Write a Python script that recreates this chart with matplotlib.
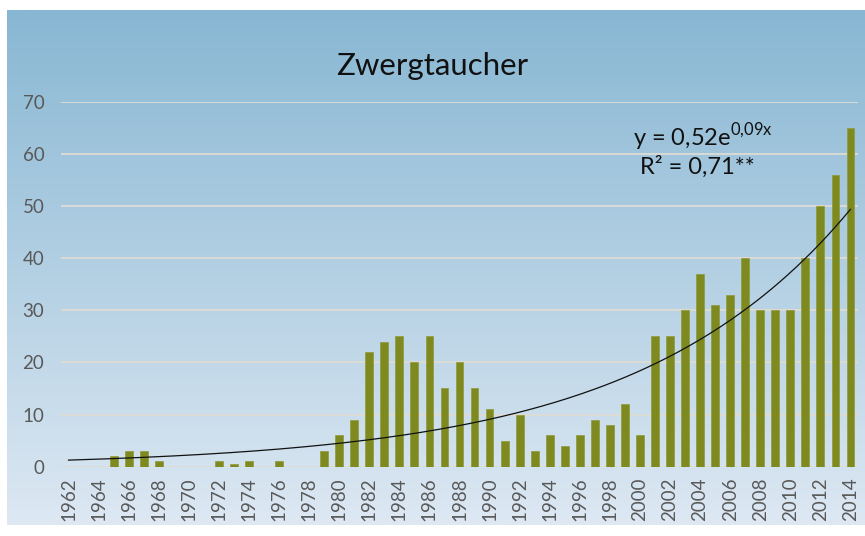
import matplotlib
matplotlib.use("Agg")
import matplotlib.pyplot as plt
import numpy as np

# Zwergtaucher counts per year
years = list(range(1962, 2015))
counts = [
    0, 0, 0, 2, 3, 3, 1, 0, 0, 0,            # 1962-1971
    1, 0.5, 1, 0, 1, 0, 0, 3, 6, 9,          # 1972-1981
    22, 24, 25, 20, 25, 15, 20, 15, 11, 5,   # 1982-1991
    10, 3, 6, 4, 6, 9, 8, 12, 6, 25,         # 1992-2001
    25, 30, 37, 31, 33, 40, 30, 30, 30, 40,  # 2002-2011
    50, 56, 65,                              # 2012-2014
]
tick_years = list(range(1962, 2015, 2))
y_ticks = [0, 10, 20, 30, 40, 50, 60, 70]
title = "Zwergtaucher"
eq_label = "y = 0,52e$^{\\mathregular{0{,}09x}}$"
r2_label = "R² = 0,71**"

plt.rcParams["font.family"] = ["Lato", "DejaVu Sans"]

fig = plt.figure(figsize=(8.65, 5.36), dpi=100)
fig.patch.set_facecolor("white")

# gradient panel behind the chart
bg = fig.add_axes([7 / 865, 11 / 536, 858 / 865, 515 / 536], zorder=0)
top_col = np.array([136, 183, 211]) / 255
bot_col = np.array([221, 232, 243]) / 255
t = np.linspace(0, 1, 256)[:, None]
grad = top_col[None, :] * (1 - t) + bot_col[None, :] * t
bg.imshow(grad[:, None, :], aspect="auto", extent=(0, 1, 0, 1))
bg.set_axis_off()

ax = fig.add_axes([61 / 865, 69.3 / 536, 797 / 865, 365 / 536], zorder=1)
ax.set_facecolor("none")

ax.bar(years, counts, width=0.52, color="#7e8a1f", edgecolor="#8f9a35",
       linewidth=0.5, zorder=3)

# exponential trend (least squares on log values, as the spreadsheet does)
yr = np.array(years, dtype=float)
cn = np.array(counts, dtype=float)
mask = cn > 0
idx = yr - 1961
b, ln_a = np.polyfit(idx[mask], np.log(cn[mask]), 1)
xs = np.linspace(1962, 2014, 300)
ax.plot(xs, np.exp(ln_a) * np.exp(b * (xs - 1961)), color="#111111",
        linewidth=0.9, zorder=4)

ax.set_xlim(1961.5, 2014.5)
ax.set_ylim(0, 70)
ax.set_yticks(y_ticks)
ax.set_xticks(tick_years)
ax.set_xticklabels([str(y) for y in tick_years], rotation=90)
ax.tick_params(axis="both", length=0, labelcolor="#595959", labelsize=13.5)
ax.tick_params(axis="y", pad=12)
ax.tick_params(axis="x", pad=8)
ax.grid(axis="y", color="#dedcd4", linewidth=1.3, zorder=1)
for s in ax.spines.values():
    s.set_visible(False)

# title sits in the middle of the whole panel, not the plot area
fig.text(0.5, (536 - 66) / 536, title, ha="center", va="center",
         fontsize=22.5, color="#111111")
ax.text(0.805, 0.903, eq_label, transform=ax.transAxes, ha="center",
        va="center", fontsize=17, color="#111111")
ax.text(0.799, 0.823, r2_label, transform=ax.transAxes, ha="center",
        va="center", fontsize=17, color="#111111")

fig.savefig("out.png", dpi=100)
